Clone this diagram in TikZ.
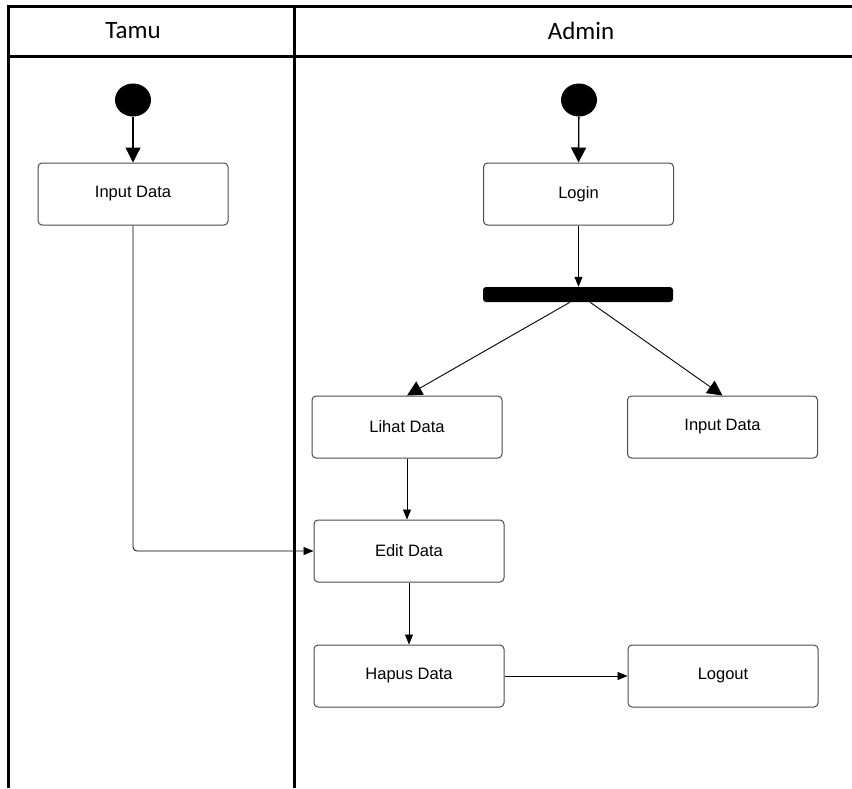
\documentclass[tikz,border=0pt]{standalone}
\usepackage{fontspec}
\setmainfont{Liberation Sans}
\newfontfamily\headfont{Carlito}
\usetikzlibrary{arrows.meta,calc,shapes.geometric}
\begin{document}
\begin{tikzpicture}[x=1pt,y=-1pt,
  lane/.style={line width=3pt,black},
  actbox/.style={draw=black!70,line width=1pt,rounded corners=4pt,minimum width=190pt,minimum height=62pt,inner sep=0pt,font=\fontsize{16.5}{19}\selectfont,fill=white},
  startnode/.style={ellipse,fill=black,minimum width=36pt,minimum height=33pt,inner sep=0pt},
  forkbar/.style={fill=black,rounded corners=3pt,minimum width=190pt,minimum height=15pt,inner sep=0pt},
  bigarrow/.style={line width=1.3pt,-{Triangle[length=15pt,width=15pt]}},
  smallarrow/.style={line width=0.8pt,-{Triangle[length=10pt,width=8pt]}},
  headtext/.style={font=\headfont\fontsize{25}{30}\selectfont}]
\useasboundingbox (0,0) rectangle (852,788);
% swimlanes
\draw[lane] (852,6) -- (8,6) -- (8,788);
\draw[lane] (294,6) -- (294,788);
\draw[lane] (8,56) -- (852,56);
\node[headtext] (htamu) at (133,31) {Tamu};
\node[headtext] (hadmin) at (581,31) {Admin};
% nodes
\node[startnode] (s1) at (133,100) {};
\node[startnode] (s2) at (579,100) {};
\node[actbox] (tin) at (133,194) {Input Data};
\node[actbox] (login) at (578.5,194) {Login};
\node[forkbar] (bar) at (578,294.5) {};
\node[actbox] (lihat) at (407,427) {Lihat Data};
\node[actbox] (ain) at (722.5,427) {Input Data};
\node[actbox] (edit) at (409,551) {Edit Data};
\node[actbox] (hapus) at (409,676) {Hapus Data};
\node[actbox] (logout) at (723,676) {Logout};
% connectors
\draw[bigarrow] (s1) -- (tin.north);
\draw[bigarrow] (s2) -- (login.north);
\draw[smallarrow] (login.south) -- (login.south |- bar.north);
\draw[bigarrow,line width=0.9pt] ($(bar.south)+(-8,0)$) -- (lihat.north);
\draw[bigarrow,line width=0.9pt] ($(bar.south)+(12,0)$) -- (ain.north);
\draw[smallarrow] (lihat.south) -- (lihat.south |- edit.north);
\draw[smallarrow] (edit.south) -- (hapus.north);
\draw[smallarrow] (hapus.east) -- (logout.west);
\draw[smallarrow,rounded corners=4pt] (tin.south) |- (edit.west);
\end{tikzpicture}
\end{document}
